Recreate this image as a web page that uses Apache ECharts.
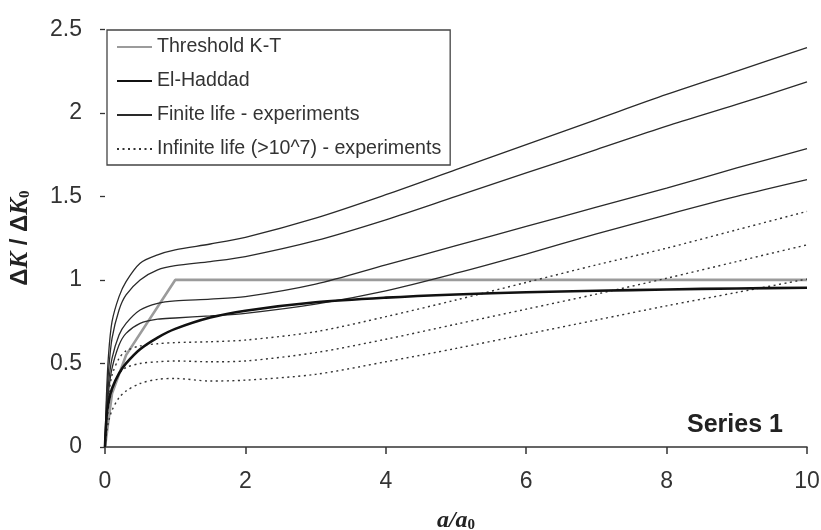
<!DOCTYPE html>
<html>
<head>
<meta charset="utf-8">
<script src="https://cdn.jsdelivr.net/npm/echarts@6/dist/echarts.min.js"></script>
<style>html,body{margin:0;padding:0;background:#fff}#c{width:821px;height:530px}</style>
</head>
<body>
<div id="c"></div>
<script>
// a/a0 sample positions
var aPoints = [0, 0.02, 0.05, 0.1, 0.2, 0.3, 0.5, 0.75, 1, 1.5, 2, 3, 4, 5, 6, 7, 8, 9, 10];

// Threshold Kitagawa-Takahashi
var ktX = [0, 0.1, 0.3, 1, 10];
var ktY = [0, 0.32, 0.55, 1, 1];

// El-Haddad
var elHaddad = [0, 0.17, 0.27, 0.35, 0.44, 0.50, 0.585, 0.655, 0.707, 0.775, 0.816, 0.866, 0.894, 0.913, 0.926, 0.935, 0.943, 0.949, 0.953];

// Finite life - experiments
var finite1 = [0, 0.30, 0.55, 0.75, 0.90, 0.99, 1.10, 1.15, 1.18, 1.215, 1.255, 1.37, 1.51, 1.66, 1.81, 1.96, 2.11, 2.25, 2.39];
var finite2 = [0, 0.25, 0.45, 0.65, 0.82, 0.91, 1.00, 1.06, 1.085, 1.11, 1.14, 1.235, 1.36, 1.50, 1.64, 1.78, 1.92, 2.05, 2.185];
var finite3 = [0, 0.20, 0.38, 0.53, 0.67, 0.74, 0.82, 0.86, 0.875, 0.885, 0.90, 0.975, 1.09, 1.205, 1.32, 1.435, 1.55, 1.67, 1.786];
var finite4 = [0, 0.18, 0.33, 0.47, 0.61, 0.68, 0.74, 0.765, 0.772, 0.785, 0.80, 0.855, 0.935, 1.04, 1.155, 1.275, 1.39, 1.50, 1.60];

// Infinite life (>10^7) - experiments
var infinite1 = [0, 0.15, 0.30, 0.43, 0.53, 0.575, 0.605, 0.618, 0.625, 0.63, 0.64, 0.69, 0.78, 0.88, 0.985, 1.09, 1.19, 1.30, 1.41];
var infinite2 = [0, 0.12, 0.24, 0.34, 0.44, 0.475, 0.50, 0.51, 0.515, 0.51, 0.515, 0.565, 0.645, 0.735, 0.825, 0.915, 1.01, 1.11, 1.21];
var infinite3 = [0, 0.08, 0.15, 0.22, 0.295, 0.335, 0.38, 0.405, 0.41, 0.395, 0.40, 0.435, 0.51, 0.59, 0.675, 0.76, 0.845, 0.925, 1.005];

var legendNames = ['Threshold K-T', 'El-Haddad', 'Finite life - experiments', 'Infinite life (>10^7) - experiments'];

function pairs(xs, ys) { return xs.map(function (x, i) { return [x, ys[i]]; }); }

var SMOOTH = 0.3;
var series = [];
series.push({ name: legendNames[0], type: 'line', data: pairs(ktX, ktY), symbol: 'none', z: 3,
  lineStyle: { color: '#9b9b9b', width: 2.6 }, itemStyle: { color: '#9b9b9b' } });
series.push({ name: legendNames[1], type: 'line', data: pairs(aPoints, elHaddad), symbol: 'none', smooth: SMOOTH, z: 4,
  lineStyle: { color: '#111', width: 2.6 }, itemStyle: { color: '#111' } });
[finite1, finite2, finite3, finite4].forEach(function (s) {
  series.push({ name: legendNames[2], type: 'line', data: pairs(aPoints, s), symbol: 'none', smooth: SMOOTH,
    lineStyle: { color: '#2a2a2a', width: 1.3 }, itemStyle: { color: '#2a2a2a' } });
});
[infinite1, infinite2, infinite3].forEach(function (s) {
  series.push({ name: legendNames[3], type: 'line', data: pairs(aPoints, s), symbol: 'none', smooth: SMOOTH,
    lineStyle: { color: '#333', width: 1.4, type: [2, 3.5] }, itemStyle: { color: '#333' } });
});

var chart = echarts.init(document.getElementById('c'), null, { renderer: 'canvas' });
chart.setOption({
  animation: false,
  backgroundColor: '#fff',
  textStyle: { fontFamily: 'Liberation Sans, Arial, sans-serif' },
  grid: { left: 105, right: 14, top: 29.3, bottom: 83, containLabel: false, outerBoundsMode: 'none' },
  legend: {
    data: legendNames,
    orient: 'vertical',
    left: 107, top: 30,
    padding: [7, 9, 6, 9],
    itemWidth: 35, itemHeight: 14, itemGap: 14,
    itemStyle: { opacity: 0 },
    borderColor: '#444', borderWidth: 1.3,
    backgroundColor: '#fff',
    textStyle: { fontSize: 19.6, color: '#333', lineHeight: 20, fontFamily: 'Liberation Sans, Arial, sans-serif' },
    selectedMode: false
  },
  xAxis: {
    type: 'value', min: 0, max: 10, interval: 2,
    name: '{i|a/a}{s|0}', nameLocation: 'middle', nameGap: 61,
    nameTextStyle: { rich: {
      i: { fontFamily: 'Liberation Serif, serif', fontStyle: 'italic', fontWeight: 'bold', fontSize: 24, color: '#222' },
      s: { fontFamily: 'Liberation Serif, serif', fontWeight: 'bold', fontSize: 15, color: '#222', padding: [10, 0, 0, 0] }
    } },
    axisLine: { show: true, lineStyle: { color: '#333', width: 1.5 } },
    axisTick: { show: true, length: 7, lineStyle: { color: '#333', width: 1.5 } },
    axisLabel: { fontSize: 23, color: '#333', margin: 23 },
    splitLine: { show: false }
  },
  yAxis: {
    type: 'value', min: 0, max: 2.5, interval: 0.5,
    name: '{d|Δ}{k|K}{d| / Δ}{k|K}{s|0}', nameLocation: 'middle', nameGap: 72, nameRotate: 90,
    nameTextStyle: { rich: {
      d: { fontFamily: 'Liberation Sans, sans-serif', fontWeight: 'bold', fontSize: 24, color: '#222' },
      k: { fontFamily: 'Liberation Serif, serif', fontStyle: 'italic', fontWeight: 'bold', fontSize: 25, color: '#222' },
      s: { fontFamily: 'Liberation Serif, serif', fontWeight: 'bold', fontSize: 15, color: '#222', padding: [10, 0, 0, 0] }
    } },
    axisLine: { show: false },
    axisTick: { show: true, length: 5, lineStyle: { color: '#333', width: 1.3 } },
    axisLabel: { fontSize: 23, color: '#333', margin: 23 },
    splitLine: { show: false }
  },
  graphic: [{
    type: 'text', left: 687, top: 413,
    style: { text: 'Series 1', fontSize: 25, fontWeight: 'bold', fill: '#222', fontFamily: 'Liberation Sans, Arial, sans-serif' }
  }],
  series: series
});
</script>
</body>
</html>
